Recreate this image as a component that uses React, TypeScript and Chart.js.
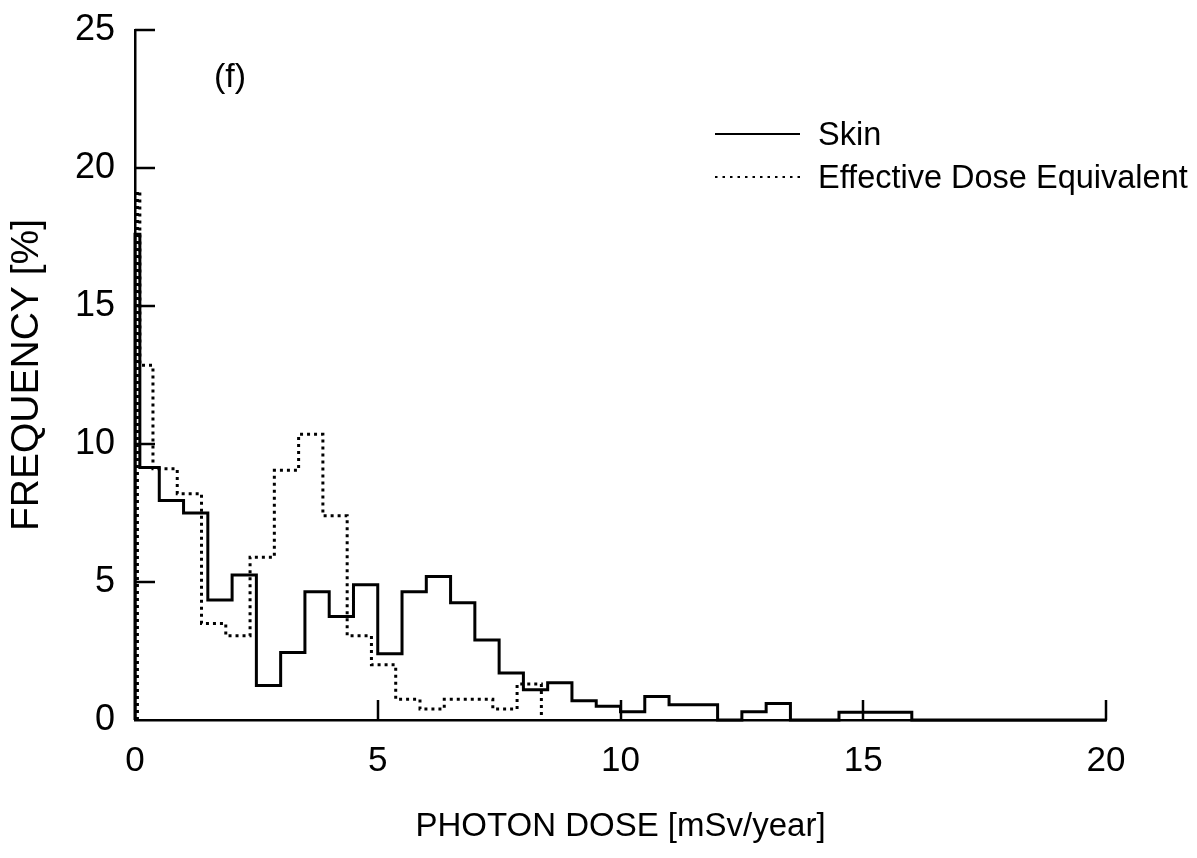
import React, { useEffect, useRef } from "react";
import { Chart, registerables } from "chart.js";

Chart.register(...registerables);

// ---- data ----
const panelLabel = "(f)";
const xTitle = "PHOTON DOSE [mSv/year]";
const yTitle = "FREQUENCY [%]";
const xTicks = [0, 5, 10, 15, 20];
const yTicks = [0, 5, 10, 15, 20, 25];

const skinLabel = "Skin";
const skinEdges = [0, 0.1, 0.5, 1, 1.5, 2, 2.5, 3, 3.5, 4, 4.5, 5, 5.5, 6, 6.5, 7, 7.5, 8, 8.5, 9, 9.5, 10, 10.5, 11, 12, 12.5, 13, 13.5, 14.5, 16, 20];
const skinValues = [17.6, 9.15, 7.95, 7.5, 4.35, 5.25, 1.25, 2.45, 4.65, 3.75, 4.9, 2.4, 4.65, 5.2, 4.25, 2.9, 1.7, 1.1, 1.35, 0.7, 0.5, 0.3, 0.85, 0.55, 0, 0.3, 0.6, 0, 0.28, 0];

const edeLabel = "Effective Dose Equivalent";
const edeEdges = [0.05, 0.1, 0.37, 0.87, 1.37, 1.87, 2.37, 2.87, 3.37, 3.87, 4.37, 4.87, 5.37, 5.87, 6.37, 6.87, 7.37, 7.87, 8.37];
const edeValues = [19.15, 12.85, 9.1, 8.2, 3.5, 3.05, 5.9, 9.05, 10.35, 7.4, 3.05, 2.0, 0.75, 0.4, 0.75, 0.75, 0.4, 1.3];

const FONT = '"Liberation Sans", Arial, Helvetica, sans-serif';

function histPoints(edges: number[], values: number[]) {
  const pts = [{ x: edges[0], y: 0 }];
  for (let i = 0; i < values.length; i++) pts.push({ x: edges[i], y: values[i] });
  pts.push({ x: edges[edges.length - 1], y: 0 });
  return pts;
}

const overlayPlugin = {
  id: "overlay",
  afterDraw(chart: any) {
    const ctx = chart.ctx;
    const xs = chart.scales.x;
    const ys = chart.scales.y;
    ctx.save();
    ctx.strokeStyle = "#000";
    ctx.lineWidth = 2.5;
    ctx.lineCap = "butt";
    // inward ticks
    yTicks.forEach((v) => {
      if (v === 0) return;
      const py = Math.round(ys.getPixelForValue(v));
      ctx.beginPath();
      ctx.moveTo(xs.left, py);
      ctx.lineTo(xs.left + 20, py);
      ctx.stroke();
    });
    xTicks.forEach((v) => {
      if (v === 0) return;
      const px = Math.round(xs.getPixelForValue(v));
      ctx.beginPath();
      ctx.moveTo(px, ys.bottom);
      ctx.lineTo(px, ys.bottom - 20);
      ctx.stroke();
    });
    // panel label
    ctx.fillStyle = "#000";
    ctx.font = `34px ${FONT}`;
    ctx.textAlign = "center";
    ctx.textBaseline = "middle";
    ctx.fillText(panelLabel, 230, 78);
    // legend
    ctx.font = `32.5px ${FONT}`;
    ctx.textAlign = "left";
    ctx.lineWidth = 2;
    ctx.beginPath();
    ctx.moveTo(715, 134);
    ctx.lineTo(800, 134);
    ctx.stroke();
    ctx.fillText(skinLabel, 818, 136);
    ctx.setLineDash([2.5, 5]);
    ctx.beginPath();
    ctx.moveTo(715, 177);
    ctx.lineTo(800, 177);
    ctx.stroke();
    ctx.setLineDash([]);
    ctx.fillText(edeLabel, 818, 179);
    ctx.restore();
  },
};

export default function App() {
  const ref = useRef<HTMLCanvasElement | null>(null);
  useEffect(() => {
    document.body.style.margin = "0";
    const canvas = ref.current;
    if (!canvas) return;
    Chart.defaults.font.family = FONT;
    Chart.defaults.color = "#000";
    const chart = new Chart(canvas, {
      type: "line",
      data: {
        datasets: [
          {
            label: edeLabel,
            data: histPoints(edeEdges, edeValues),
            stepped: "before",
            borderColor: "#000",
            borderWidth: 3,
            borderDash: [3, 4],
            pointRadius: 0,
            fill: false,
            clip: false as any,
          },
          {
            label: skinLabel,
            data: histPoints(skinEdges, skinValues),
            stepped: "before",
            borderColor: "#000",
            borderWidth: 3,
            pointRadius: 0,
            fill: false,
            clip: false as any,
          },
        ],
      },
      options: {
        responsive: false,
        animation: false,
        devicePixelRatio: 1,
        layout: { padding: { top: 30, right: 91, bottom: 0, left: 0 } },
        plugins: {
          legend: { display: false },
          tooltip: { enabled: false },
        },
        scales: {
          x: {
            type: "linear",
            min: 0,
            max: 20,
            afterFit: (s: any) => {
              s.height = 138;
              s.paddingLeft = 0;
              s.paddingRight = 0;
            },
            afterBuildTicks: (s: any) => {
              s.ticks = xTicks.map((v) => ({ value: v }));
            },
            grid: { display: false, drawTicks: false },
            border: { display: true, color: "#000", width: 2.5 },
            ticks: {
              font: { size: 35 },
              color: "#000",
              padding: 20,
              maxRotation: 0,
              callback: (v: any) => String(v),
            },
            title: {
              display: true,
              text: xTitle,
              font: { size: 33 },
              color: "#000",
              padding: { top: 0, bottom: 11 },
            },
          },
          y: {
            type: "linear",
            min: 0,
            max: 25,
            afterFit: (s: any) => {
              s.width = 135;
              s.paddingTop = 0;
              s.paddingBottom = 0;
            },
            afterBuildTicks: (s: any) => {
              s.ticks = yTicks.map((v) => ({ value: v }));
            },
            grid: { display: false, drawTicks: false },
            border: { display: true, color: "#000", width: 2.5 },
            ticks: {
              font: { size: 36 },
              color: "#000",
              padding: 20,
              callback: (v: any) => String(v),
            },
            title: {
              display: true,
              text: yTitle,
              font: { size: 39 },
              color: "#000",
              padding: { top: 4, bottom: 0 },
            },
          },
        },
      },
      plugins: [overlayPlugin],
    });
    return () => chart.destroy();
  }, []);
  return (
    <div style={{ width: 1197, height: 858, position: "relative", background: "#fff" }}>
      <canvas ref={ref} width={1197} height={858} style={{ display: "block" }} />
    </div>
  );
}
